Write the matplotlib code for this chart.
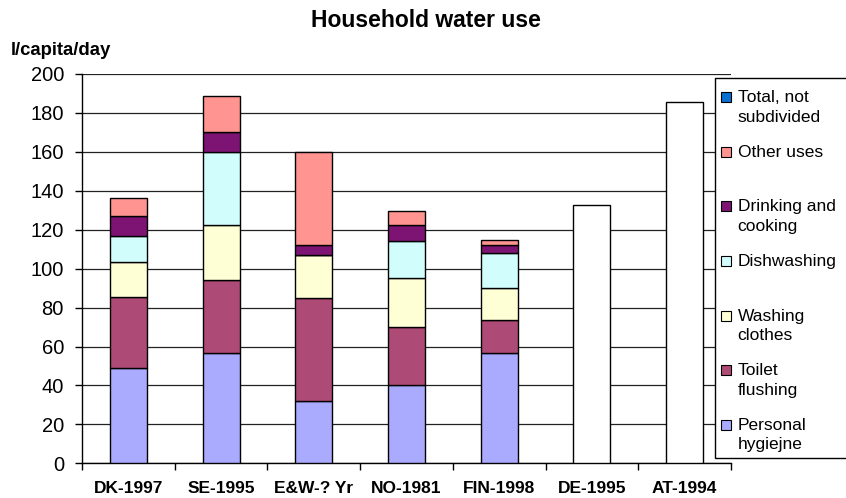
import numpy as np
import matplotlib.pyplot as plt
from matplotlib.patches import Rectangle

plt.rcParams['font.family'] = ['Liberation Sans', 'DejaVu Sans']

# data (l/capita/day)
countries = ['DK-1997', 'SE-1995', 'E&W-? Yr', 'NO-1981', 'FIN-1998', 'DE-1995', 'AT-1994']
personal = [49, 56.5, 32, 40, 56.5]
toilet = [36.5, 37.7, 52.7, 30, 17.3]
washing = [18, 28.4, 22.3, 25, 16.1]
dishwash = [13.5, 37.5, 0, 19.4, 18]
drinking = [10, 9.9, 4.9, 8, 4.1]
other = [9.5, 18.9, 48.1, 7.1, 2.7]
total = [0, 0, 0, 0, 0, 132.7, 185.8]

series = [
    ('Personal\nhygiejne', personal, '#aaaaff'),
    ('Toilet\nflushing', toilet, '#ad4a76'),
    ('Washing\nclothes', washing, '#ffffd6'),
    ('Dishwashing', dishwash, '#d2fdfd'),
    ('Drinking and\ncooking', drinking, '#7d1473'),
    ('Other uses', other, '#ff9490'),
]
total_label = 'Total, not\nsubdivided'
total_color = '#0a6fd0'

W, H = 846, 498
fig = plt.figure(figsize=(W / 100, H / 100), dpi=100)
ax = fig.add_axes([82 / W, 1 - 463.3 / H, (731 - 82) / W, (463.3 - 74) / H])

x = np.arange(len(countries))
n = len(personal)
bottom = np.zeros(n)
for label, vals, col in series:
    ax.bar(x[:n], vals, 0.4, bottom=bottom, color=col, edgecolor='black', linewidth=1, zorder=3)
    bottom += np.array(vals)
ax.bar(x[n:], total[n:], 0.4, color='white', edgecolor='black', linewidth=1, zorder=3)

ax.set_xlim(-0.5, len(countries) - 0.5)
ax.set_ylim(0, 200)
ax.set_yticks(np.arange(0, 201, 20))
ax.yaxis.grid(True, color='#222222', linewidth=0.9, zorder=0)
ax.set_axisbelow(True)
for s in ['top', 'right']:
    ax.spines[s].set_visible(False)
ax.spines['left'].set_linewidth(1)
ax.spines['bottom'].set_linewidth(1)

ax.set_xticks(x)
ax.set_xticklabels(countries, fontsize=12.5, fontweight='bold')
ax.set_xticks(np.arange(-0.5, len(countries)), minor=True)
ax.tick_params(axis='x', which='major', length=0, pad=12.5)
ax.tick_params(axis='x', which='minor', length=5, width=1, direction='out')
ax.tick_params(axis='y', length=5, width=1, direction='out', pad=8, labelsize=14.5)

fig.text(426 / W, 1 - 26.7 / H, 'Household water use', fontsize=16.5, fontweight='bold',
         ha='center', va='baseline')
fig.text(11 / W, 1 - 55 / H, 'l/capita/day', fontsize=13.3, fontweight='bold',
         ha='left', va='baseline')

# legend box in the style of the original (marker at first line of each entry)
def fx(px):
    return px / W

def fy(py):
    return 1 - py / H

fig.add_artist(Rectangle((fx(714.5), fy(458)), fx(860) - fx(714.5), fy(78.5) - fy(458),
                         transform=fig.transFigure, facecolor='white', edgecolor='black',
                         linewidth=1, zorder=5))
entries = [(total_label, total_color)] + [(lab, col) for lab, _, col in series[::-1]]
for i, (lab, col) in enumerate(entries):
    top = 92.3 + 54.6 * i
    fig.add_artist(Rectangle((fx(721), fy(top + 10)), fx(10), 10 / H,
                             transform=fig.transFigure, facecolor=col, edgecolor='black',
                             linewidth=0.8, zorder=6))
    fig.text(fx(737.5), fy(top - 2), lab, fontsize=12.5, ha='left', va='top',
             linespacing=1.38, zorder=7)

fig.savefig('out.png', dpi=100)
